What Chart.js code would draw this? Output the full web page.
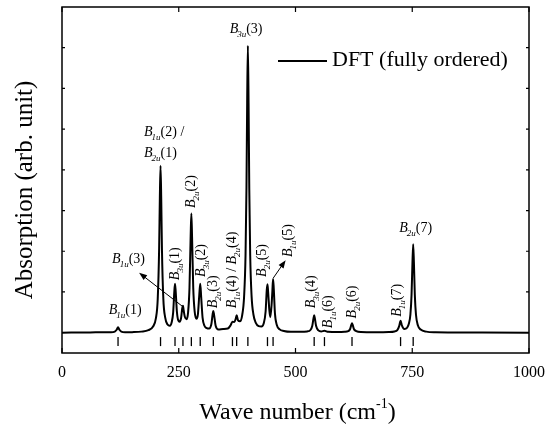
<!DOCTYPE html>
<html lang="en">
<head>
  <meta charset="UTF-8">
  <title>IR absorption spectrum</title>
  <script src="https://cdn.jsdelivr.net/npm/chart.js"></script>
  <style>
    body { margin: 0; background: #fff; }
    canvas { display: block; }
  </style>
</head>
<body>
  <canvas id="spectrum" width="555" height="428"></canvas>

  <script>
    // spectrum curve (wave number, absorption in arb. units)
    const waveNumber = [
      0, 60, 90, 105, 113, 117, 120, 123, 127, 135, 150, 170, 185, 195, 201, 205, 208, 209.5, 211, 212.5,
      214, 217, 221, 226, 231, 235, 238, 240.5, 242, 243.5, 246, 249, 252, 255, 257.5, 259, 260.5, 263, 267, 270,
      273, 275.5, 277, 278.5, 281, 284, 288, 291, 294, 296, 298, 301, 305, 310, 315, 320, 322.5, 324, 325.5, 329,
      335, 345, 355, 361, 365, 369, 372, 374, 377, 381, 386, 390, 393, 395, 396.5, 398, 399.5, 401, 403, 406,
      410, 415, 421, 427, 432, 436, 438.5, 440, 441.5, 444, 446, 449, 450.5, 452, 453.5, 456, 460, 466, 475, 490,
      510, 525, 532, 536, 538.5, 540, 541.5, 544, 549, 555, 562, 570, 590, 605, 613, 617, 619.5, 621, 622.5, 625,
      630, 640, 670, 700, 712, 718, 722, 725, 728, 733, 739, 743, 746, 748.5, 750.5, 752, 753.5, 755.5, 758, 762,
      768, 780, 800, 850, 900, 1000
    ];
    const absorption = [
      0, 0.005, 0.01, 0.01, 0.025, 0.07, 0.135, 0.07, 0.025, 0.01, 0.012, 0.025, 0.06, 0.15, 0.35, 0.83, 2.07, 3.3, 4.1, 3.28,
      2.06, 0.83, 0.37, 0.2, 0.17, 0.26, 0.49, 1.0, 1.2, 1.0, 0.52, 0.3, 0.27, 0.36, 0.6, 0.66, 0.55, 0.39, 0.33, 0.5,
      1.1, 2.37, 2.93, 2.35, 1.11, 0.53, 0.34, 0.45, 0.93, 1.2, 0.88, 0.37, 0.17, 0.11, 0.1, 0.22, 0.45, 0.53, 0.45, 0.17,
      0.08, 0.09, 0.1, 0.18, 0.27, 0.26, 0.34, 0.43, 0.3, 0.28, 0.44, 0.9, 1.9, 3.55, 5.65, 7.05, 5.64, 3.55, 1.9, 0.89,
      0.44, 0.24, 0.16, 0.15, 0.23, 0.52, 1.05, 1.19, 0.98, 0.55, 0.38, 0.72, 1.03, 1.32, 1.07, 0.47, 0.19, 0.08, 0.04, 0.02,
      0.02, 0.03, 0.065, 0.17, 0.35, 0.43, 0.35, 0.17, 0.055, 0.03, 0.045, 0.02, 0.015, 0.02, 0.035, 0.09, 0.19, 0.23, 0.19, 0.09,
      0.04, 0.015, 0.01, 0.015, 0.03, 0.06, 0.16, 0.29, 0.17, 0.09, 0.12, 0.23, 0.44, 0.93, 1.74, 2.17, 1.74, 0.93, 0.44, 0.18,
      0.075, 0.025, 0.01, 0.005, 0.003, 0
    ];

    // calculated mode positions (the sticks under the curve)
    const modePositions = [120, 211, 242, 259, 277, 296, 324, 365, 374, 398, 440, 452, 540, 562, 621, 725, 752];

    const xTicks = [0, 250, 500, 750, 1000];
    const yTicks = [1, 2, 3, 4, 5, 6, 7];

    const seriesName = 'DFT (fully ordered)';
    const xTitle = 'Wave number (cm';
    const yTitle = 'Absorption (arb. unit)';

    // mode labels: B{sub}tail, anchor in data units, rotated or not
    const modeLabels = [
      ['B{1u}(1)', 100, 0.45, false],
      ['B{1u}(2) /', 175.7, 4.84, false],
      ['B{2u}(1)', 175.7, 4.32, false],
      ['B{1u}(3)', 107.3, 1.71, false],
      ['B{3u}(1)', 249.7, 1.29, true],
      ['B{2u}(2)', 284.7, 3.06, true],
      ['B{3u}(2)', 305.8, 1.37, true],
      ['B{2u}(3)', 331.2, 0.6, true],
      ['B{1u}(4) / B{2u}(4)', 372.9, 0.6, true],
      ['B{3u}(3)', 359, 7.37, false],
      ['B{2u}(5)', 436.4, 1.37, true],
      ['B{1u}(5)', 492, 1.86, true],
      ['B{3u}(4)', 542.2, 0.6, true],
      ['B{1u}(6)', 577.4, 0.11, true],
      ['B{2u}(6)', 630.3, 0.35, true],
      ['B{1u}(7)', 725.5, 0.39, true],
      ['B{2u}(7)', 722, 2.47, false]
    ];

    // arrows from a peak to its label: [fromX, fromY, toX, toY]
    const arrows = [
      [258.6, 0.64, 165.1, 1.47],
      [452.3, 1.34, 478.9, 1.78]
    ];

    const SERIF = '"Liberation Serif", "Times New Roman", serif';
    const STICK_LEVEL = -0.22;

    function drawMode(ctx, text, x, y, rotated) {
      ctx.save();
      ctx.translate(x, y);
      if (rotated) ctx.rotate(-Math.PI / 2);
      ctx.textAlign = 'left';
      ctx.textBaseline = 'alphabetic';
      let cx = 0;
      const re = /B\{(\w+)\}([^B]*)/g;
      let m;
      while ((m = re.exec(text)) !== null) {
        ctx.font = 'italic 14px ' + SERIF;
        ctx.fillText('B', cx, 0);
        cx += ctx.measureText('B').width - 1;
        ctx.font = 'italic 9px ' + SERIF;
        ctx.fillText(m[1], cx, 4);
        cx += ctx.measureText(m[1]).width;
        ctx.font = '14px ' + SERIF;
        ctx.fillText(m[2], cx, 0);
        cx += ctx.measureText(m[2]).width;
      }
      ctx.restore();
    }

    const decorations = {
      id: 'decorations',
      afterDraw(chart) {
        const { ctx, chartArea: a, scales: { x, y } } = chart;
        ctx.save();
        ctx.strokeStyle = '#000';
        ctx.fillStyle = '#000';

        // frame and inward ticks
        ctx.lineWidth = 1.5;
        ctx.strokeRect(a.left, a.top, a.right - a.left, a.bottom - a.top);
        ctx.lineWidth = 1.2;
        ctx.beginPath();
        xTicks.forEach(v => {
          const px = x.getPixelForValue(v);
          ctx.moveTo(px, a.bottom); ctx.lineTo(px, a.bottom - 5);
          ctx.moveTo(px, a.top); ctx.lineTo(px, a.top + 5);
        });
        yTicks.forEach(v => {
          const py = y.getPixelForValue(v);
          ctx.moveTo(a.left, py); ctx.lineTo(a.left + 3, py);
          ctx.moveTo(a.right, py); ctx.lineTo(a.right - 3, py);
        });
        ctx.stroke();

        // mode labels
        modeLabels.forEach(([t, vx, vy, rot]) => {
          drawMode(ctx, t, x.getPixelForValue(vx), y.getPixelForValue(vy), rot);
        });

        // arrows
        ctx.lineWidth = 1;
        arrows.forEach(([x1, y1, x2, y2]) => {
          const p1 = [x.getPixelForValue(x1), y.getPixelForValue(y1)];
          const p2 = [x.getPixelForValue(x2), y.getPixelForValue(y2)];
          const ang = Math.atan2(p2[1] - p1[1], p2[0] - p1[0]);
          ctx.beginPath();
          ctx.moveTo(p1[0], p1[1]);
          ctx.lineTo(p2[0] - 6 * Math.cos(ang), p2[1] - 6 * Math.sin(ang));
          ctx.stroke();
          ctx.beginPath();
          ctx.moveTo(p2[0], p2[1]);
          ctx.lineTo(p2[0] - 8 * Math.cos(ang) + 3 * Math.sin(ang), p2[1] - 8 * Math.sin(ang) - 3 * Math.cos(ang));
          ctx.lineTo(p2[0] - 8 * Math.cos(ang) - 3 * Math.sin(ang), p2[1] - 8 * Math.sin(ang) + 3 * Math.cos(ang));
          ctx.closePath();
          ctx.fill();
        });

        // legend
        ctx.lineWidth = 2;
        ctx.beginPath();
        ctx.moveTo(278, 61);
        ctx.lineTo(327, 61);
        ctx.stroke();
        ctx.font = '22px ' + SERIF;
        ctx.textAlign = 'left';
        ctx.textBaseline = 'alphabetic';
        ctx.fillText(seriesName, 332, 66);

        // axis titles
        ctx.font = '24px ' + SERIF;
        const wMain = ctx.measureText(xTitle).width;
        ctx.font = '14px ' + SERIF;
        const wSup = ctx.measureText('-1').width;
        ctx.font = '24px ' + SERIF;
        const wEnd = ctx.measureText(')').width;
        let tx = (a.left + a.right) / 2 - (wMain + wSup + wEnd) / 2 + 2;
        ctx.fillText(xTitle, tx, 419);
        ctx.font = '14px ' + SERIF;
        ctx.fillText('-1', tx + wMain, 408);
        ctx.font = '24px ' + SERIF;
        ctx.fillText(')', tx + wMain + wSup, 419);

        ctx.save();
        ctx.font = '25px ' + SERIF;
        ctx.translate(32, 190);
        ctx.rotate(-Math.PI / 2);
        ctx.textAlign = 'center';
        ctx.fillText(yTitle, 0, 0);
        ctx.restore();

        ctx.restore();
      }
    };

    new Chart(document.getElementById('spectrum'), {
      data: {
        datasets: [
          {
            type: 'line',
            label: seriesName,
            data: waveNumber.map((w, i) => ({ x: w, y: absorption[i] })),
            borderColor: '#000',
            borderWidth: 2,
            pointRadius: 0,
            cubicInterpolationMode: 'monotone'
          },
          {
            type: 'scatter',
            label: 'modes',
            data: modePositions.map(w => ({ x: w, y: STICK_LEVEL })),
            pointStyle: 'line',
            rotation: 90,
            radius: 4.5,
            borderWidth: 1.3,
            borderColor: '#000'
          }
        ]
      },
      options: {
        responsive: false,
        animation: false,
        layout: { padding: { left: 62, right: 20, top: 7, bottom: 0 } },
        plugins: { legend: { display: false }, tooltip: { enabled: false } },
        scales: {
          x: {
            type: 'linear',
            min: 0,
            max: 1000,
            afterBuildTicks: s => { s.ticks = xTicks.map(v => ({ value: v })); },
            afterFit: s => { s.height = 75; },
            ticks: {
              color: '#000',
              padding: 10,
              maxRotation: 0,
              font: { family: SERIF, size: 16 },
              callback: v => String(v)
            },
            grid: { display: false, drawTicks: false },
            border: { display: false }
          },
          y: { display: false, min: -0.5, max: 8 }
        }
      },
      plugins: [decorations]
    });
  </script>
</body>
</html>
